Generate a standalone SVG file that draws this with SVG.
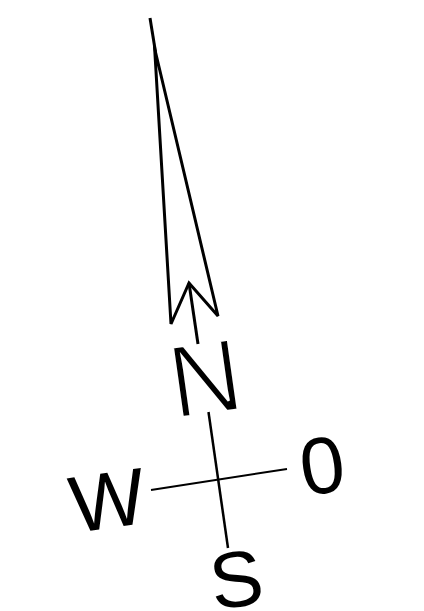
<svg xmlns="http://www.w3.org/2000/svg" width="424" height="611" viewBox="0 0 424 611">
<style>
.l{fill:none;stroke:#000;stroke-linecap:butt;stroke-linejoin:miter}
.t{font-family:"Liberation Sans",Arial,sans-serif;fill:#000}
</style>
<rect width="424" height="611" fill="#fff"/>
<g id="node-n"><text class="t" font-size="103" stroke="#fff" stroke-width="2.500" transform="translate(174.500 418.500) rotate(-8) scale(.97 1)">N</text></g>
<g id="node-o"><text class="t" font-size="80" transform="translate(304 496) rotate(-8)">0</text></g>
<g id="node-w"><text class="t" font-size="80" transform="translate(74 533) rotate(-8)">W</text></g>
<g id="node-s"><text class="t" font-size="79" transform="translate(214 610) rotate(-8)">S</text></g>
<g id="connectors">
<path class="l" stroke-width="3" d="M150 18L155.500 52"/>
<path class="l" stroke-width="3" d="M198 344L189 283"/>
<path class="l" stroke-width="3" d="M154.500 46L171 324L189 283L218 316L155 50"/>
<path class="l" stroke-width="2.500" d="M208.500 412L228 548"/>
<path class="l" stroke-width="2" d="M151 490L287 469"/>
</g>
</svg>
